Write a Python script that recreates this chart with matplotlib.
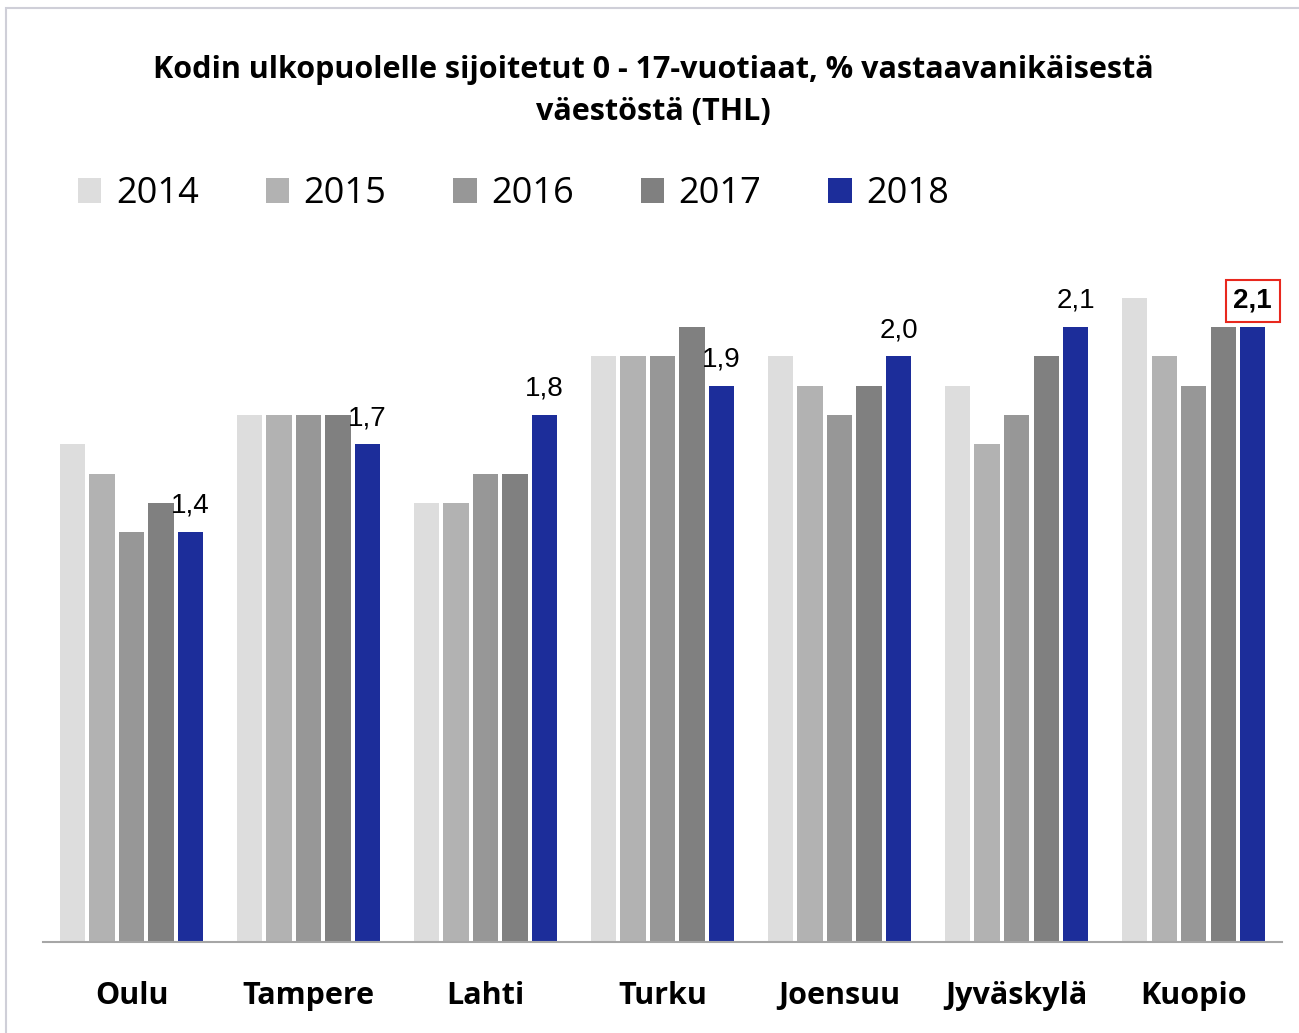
import numpy as np
import matplotlib
matplotlib.use('Agg')
import matplotlib.pyplot as plt
from matplotlib.patches import Rectangle

# ── data ────────────────────────────────────────────────
cities = ['Oulu', 'Tampere', 'Lahti', 'Turku', 'Joensuu', 'Jyväskylä', 'Kuopio']
years  = ['2014', '2015', '2016', '2017', '2018']
v2014 = [1.7, 1.8, 1.5, 2.0, 2.0, 1.9, 2.2]
v2015 = [1.6, 1.8, 1.5, 2.0, 1.9, 1.7, 2.0]
v2016 = [1.4, 1.8, 1.6, 2.0, 1.8, 1.8, 1.9]
v2017 = [1.5, 1.8, 1.6, 2.1, 1.9, 2.0, 2.1]
v2018 = [1.4, 1.7, 1.8, 1.9, 2.0, 2.1, 2.1]
series = [v2014, v2015, v2016, v2017, v2018]
colors = ['#DDDDDD', '#B2B2B2', '#979797', '#808080', '#1C2D9A']

plt.rcParams['font.family'] = ['Open Sans', 'DejaVu Sans']

fig = plt.figure(figsize=(12.99, 10.33), dpi=100)
ax = fig.add_axes([0.0331, 0.0881, 0.954, 0.7086])

# outer frame like the slide box
fig.patches.append(Rectangle((0.005, -0.01), 1.2, 1.002, transform=fig.transFigure,
                             fill=False, edgecolor='#CFCFD8', linewidth=1.5))

x = np.arange(len(cities))
slot = 1 / 6
for i, (vals, col, yr) in enumerate(zip(series, colors, years)):
    pos = x + (i - 2) * slot
    ax.bar(pos, vals, width=slot * 0.86, color=col, label=yr, zorder=2)

# data labels for 2018
pos18 = x + 2 * slot
for j, v in enumerate(v2018):
    txt = f'{v:.1f}'.replace('.', ',')
    if j == len(v2018) - 1:
        ax.text(pos18[j], v + 0.045, txt, ha='center', va='bottom', fontsize=20,
                fontweight='bold', family='Liberation Sans',
                bbox=dict(boxstyle='square,pad=0.28', fc='white', ec='#E8281E', lw=1.5))
    else:
        ax.text(pos18[j], v + 0.045, txt, ha='center', va='bottom', fontsize=20,
                family='Liberation Sans')

ax.set_xlim(-0.5, 6.5)
ax.set_ylim(0, 2.5)
ax.set_xticks(x)
ax.set_xticklabels(cities, fontsize=22, fontweight='bold')
ax.tick_params(axis='x', length=0, pad=28)
ax.set_yticks([])
for s in ['top', 'right', 'left']:
    ax.spines[s].set_visible(False)
ax.spines['bottom'].set_color('#A6A6A6')
ax.spines['bottom'].set_linewidth(1.5)

fig.text(0.503, 0.912, 'Kodin ulkopuolelle sijoitetut 0 - 17-vuotiaat, % vastaavanikäisestä\nväestöstä (THL)',
         ha='center', va='center', fontsize=22, fontweight='bold', linespacing=1.5)

fig.legend(loc='center left', bbox_to_anchor=(0.035, 0.812), ncol=5, frameon=False,
           fontsize=26, handlelength=0.65, handleheight=0.65, handletextpad=0.4,
           columnspacing=1.85)

plt.savefig('out.png', dpi=100)
